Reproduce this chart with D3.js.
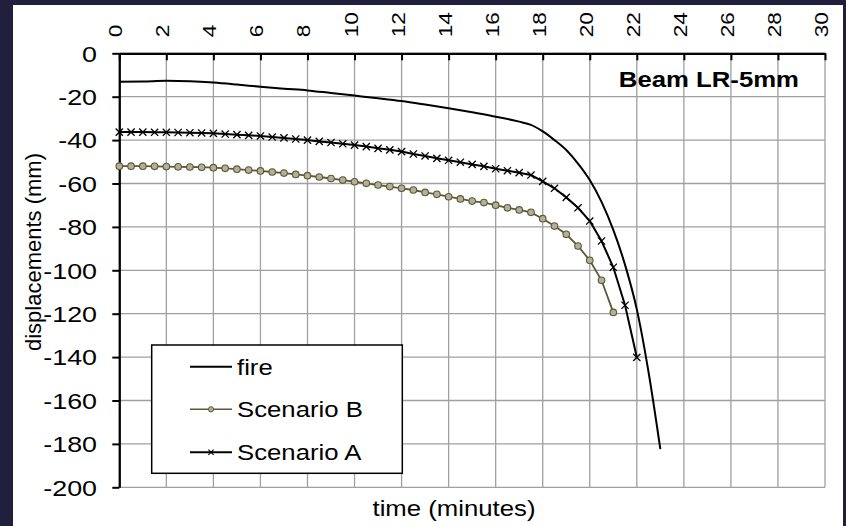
<!DOCTYPE html>
<html><head><meta charset="utf-8">
<script src="https://cdn.jsdelivr.net/npm/d3@7/dist/d3.min.js"></script>
<style>
html,body{margin:0;padding:0;background:#20203e;}
svg{display:block;font-family:"Liberation Sans",Arial,sans-serif;}
</style></head>
<body>
<svg id="c" width="846" height="526"></svg>
<script>
// ---- data ----
const xTicks = [0,2,4,6,8,10,12,14,16,18,20,22,24,26,28,30];
const yTicks = [0,-20,-40,-60,-80,-100,-120,-140,-160,-180,-200];

const fireTime = [0,1,2,3,4,5,6,7,8,9,10,11,12,13,14,15,16,17,17.5,18,18.5,19,19.5,20,20.5,21,21.5,22,22.5,23];
const fireDisp = [-13.1,-13.0,-12.7,-12.9,-13.5,-14.4,-15.4,-16.3,-17.1,-18.3,-19.5,-20.7,-22.0,-23.6,-25.3,-27.2,-29.2,-31.5,-33.0,-36.0,-40.0,-44.6,-50.8,-58.4,-68.5,-81.4,-97.5,-118.0,-147.0,-182.4];

const aTime = [0,0.5,1,1.5,2,2.5,3,3.5,4,4.5,5,5.5,6,6.5,7,7.5,8,8.5,9,9.5,10,10.5,11,11.5,12,12.5,13,13.5,14,14.5,15,15.5,16,16.5,17,17.5,18,18.5,19,19.5,20,20.5,21,21.5,22];
const aDisp = [-36.3,-36.3,-36.3,-36.4,-36.4,-36.5,-36.6,-36.7,-36.9,-37.2,-37.5,-37.8,-38.1,-38.6,-39.0,-39.5,-40.0,-40.6,-41.1,-41.7,-42.3,-43.0,-43.8,-44.5,-45.3,-46.4,-47.3,-48.4,-49.3,-50.2,-51.2,-52.1,-53.2,-54.1,-55.0,-56.1,-59.0,-62.2,-66.4,-71.2,-77.3,-86.5,-98.6,-116.1,-140.1];

const bTime = [0,0.5,1,1.5,2,2.5,3,3.5,4,4.5,5,5.5,6,6.5,7,7.5,8,8.5,9,9.5,10,10.5,11,11.5,12,12.5,13,13.5,14,14.5,15,15.5,16,16.5,17,17.5,18,18.5,19,19.5,20,20.5,21];
const bDisp = [-52.0,-52.0,-52.0,-52.1,-52.2,-52.3,-52.4,-52.5,-52.7,-53.0,-53.4,-53.8,-54.2,-54.7,-55.2,-55.8,-56.4,-57.0,-57.7,-58.4,-59.2,-59.9,-60.7,-61.4,-62.2,-63.0,-64.1,-65.0,-66.1,-67.1,-68.1,-68.8,-70.0,-71.2,-72.2,-73.3,-76.2,-79.6,-83.4,-88.8,-95.4,-104.6,-119.4];

const seriesNames = ["fire","Scenario B","Scenario A"];
const titleText = "Beam LR-5mm";
const xTitle = "time (minutes)";
const yTitle = "displacements (mm)";

// ---- drawing ----
const svg = d3.select("#c");
const FONT = '"Liberation Sans",Arial,sans-serif';
const SX = 1.17;
svg.append("rect").attr("x",0).attr("y",0).attr("width",846).attr("height",526).attr("fill","#20203e");
svg.append("rect").attr("x",13).attr("y",5).attr("width",830).attr("height",521).attr("fill","#ffffff");

const x = d3.scaleLinear().domain([0,30]).range([119.3,825]);
const y = d3.scaleLinear().domain([-200,0]).range([487.3,53.3]);

// grid
const grid = svg.append("g");
grid.selectAll("line.v").data(xTicks).join("line")
  .attr("x1",d=>x(d)).attr("x2",d=>x(d)).attr("y1",y(0)).attr("y2",y(-200))
  .attr("stroke","#a0a0a0").attr("stroke-width",1.3);
grid.selectAll("line.h").data(yTicks).join("line")
  .attr("x1",x(0)).attr("x2",x(30)).attr("y1",d=>y(d)).attr("y2",d=>y(d))
  .attr("stroke","#a0a0a0").attr("stroke-width",1.3);

// axes
const xAxis = d3.axisTop(x).tickValues(xTicks).tickSizeInner(-7).tickSizeOuter(0).tickFormat(d=>String(d));
const gx = svg.append("g").attr("transform",`translate(0,${y(0)})`).call(xAxis);
gx.select(".domain").attr("stroke","#000").attr("stroke-width",2.2);
gx.selectAll(".tick line").attr("stroke","#000").attr("stroke-width",2);
gx.selectAll(".tick text")
  .attr("font-family",FONT).attr("font-size",18.5).attr("fill","#000")
  .attr("text-anchor","start").attr("dy",null).attr("y",null).attr("x",null)
  .attr("transform","translate(2.5,-16) rotate(-90) scale(1.22,1)");

const yAxis = d3.axisLeft(y).tickValues(yTicks).tickSizeInner(7).tickSizeOuter(0).tickFormat(d=>String(d));
const gy = svg.append("g").attr("transform",`translate(${x(0)},0)`).call(yAxis);
gy.select(".domain").attr("stroke","#000").attr("stroke-width",2.2);
gy.selectAll(".tick line").attr("stroke","#000").attr("stroke-width",2);
gy.selectAll(".tick text").attr("font-family",FONT).attr("font-size",22).attr("fill","#000")
  .attr("x",null).attr("dy","0.35em").attr("text-anchor","end")
  .attr("transform","translate(-22.3,0) scale(1.22,1)");

// series
const fireData = fireTime.map((t,i)=>({t,v:fireDisp[i]}));
const aData = aTime.map((t,i)=>({t,v:aDisp[i]}));
const bData = bTime.map((t,i)=>({t,v:bDisp[i]}));

const lineSmooth = d3.line().x(d=>x(d.t)).y(d=>y(d.v)).curve(d3.curveMonotoneX);
const lineStraight = d3.line().x(d=>x(d.t)).y(d=>y(d.v));

svg.append("path").datum(bData).attr("d",lineStraight).attr("fill","none").attr("stroke","#5c5838").attr("stroke-width",1.8);
svg.append("g").selectAll("circle").data(bData).join("circle")
  .attr("cx",d=>x(d.t)).attr("cy",d=>y(d.v)).attr("r",3.3)
  .attr("fill","#b3b098").attr("stroke","#5c5838").attr("stroke-width",1.1);

svg.append("path").datum(aData).attr("d",lineStraight).attr("fill","none").attr("stroke","#000").attr("stroke-width",2);
const xs = 3.6;
svg.append("g").selectAll("path").data(aData).join("path")
  .attr("d",d=>{const cx=x(d.t),cy=y(d.v);return `M${cx-xs},${cy-xs}L${cx+xs},${cy+xs}M${cx-xs},${cy+xs}L${cx+xs},${cy-xs}`;})
  .attr("stroke","#000").attr("stroke-width",1.3).attr("fill","none");

svg.append("path").datum(fireData).attr("d",lineSmooth).attr("fill","none").attr("stroke","#000").attr("stroke-width",2);

// title in plot
svg.append("text").attr("transform",`translate(799,87) scale(${SX},1)`).attr("text-anchor","end")
  .attr("font-family",FONT).attr("font-weight","bold").attr("font-size",22).text(titleText);

// axis titles
svg.append("text").attr("transform",`translate(454,516) scale(${SX},1)`).attr("text-anchor","middle")
  .attr("font-family",FONT).attr("font-size",22).text(xTitle);
svg.append("text").attr("transform","translate(40.7,252) rotate(-90)").attr("text-anchor","middle")
  .attr("font-family",FONT).attr("font-size",22).text(yTitle);

// legend
const lg = svg.append("g");
lg.append("rect").attr("x",151.7).attr("y",345).attr("width",250.6).attr("height",128.3)
  .attr("fill","#fff").attr("stroke","#000").attr("stroke-width",1.5);
const rows = [366.7,409.3,452.3];
seriesNames.forEach((name,i)=>{
  const cy = rows[i];
  const col = i===1 ? "#5c5838" : "#000";
  lg.append("line").attr("x1",190).attr("x2",232).attr("y1",cy).attr("y2",cy).attr("stroke",col).attr("stroke-width",i===1?1.6:2);
  if(i===1){
    lg.append("circle").attr("cx",211).attr("cy",cy).attr("r",2.6).attr("fill","#b3b098").attr("stroke",col).attr("stroke-width",1);
  }
  if(i===2){
    const s=2.6;
    lg.append("path").attr("d",`M${211-s},${cy-s}L${211+s},${cy+s}M${211-s},${cy+s}L${211+s},${cy-s}`).attr("stroke","#000").attr("stroke-width",1.1);
  }
  lg.append("text").attr("transform",`translate(237,${cy+8}) scale(${SX},1)`).attr("font-family",FONT).attr("font-size",22).text(name);
});
</script>
</body></html>
